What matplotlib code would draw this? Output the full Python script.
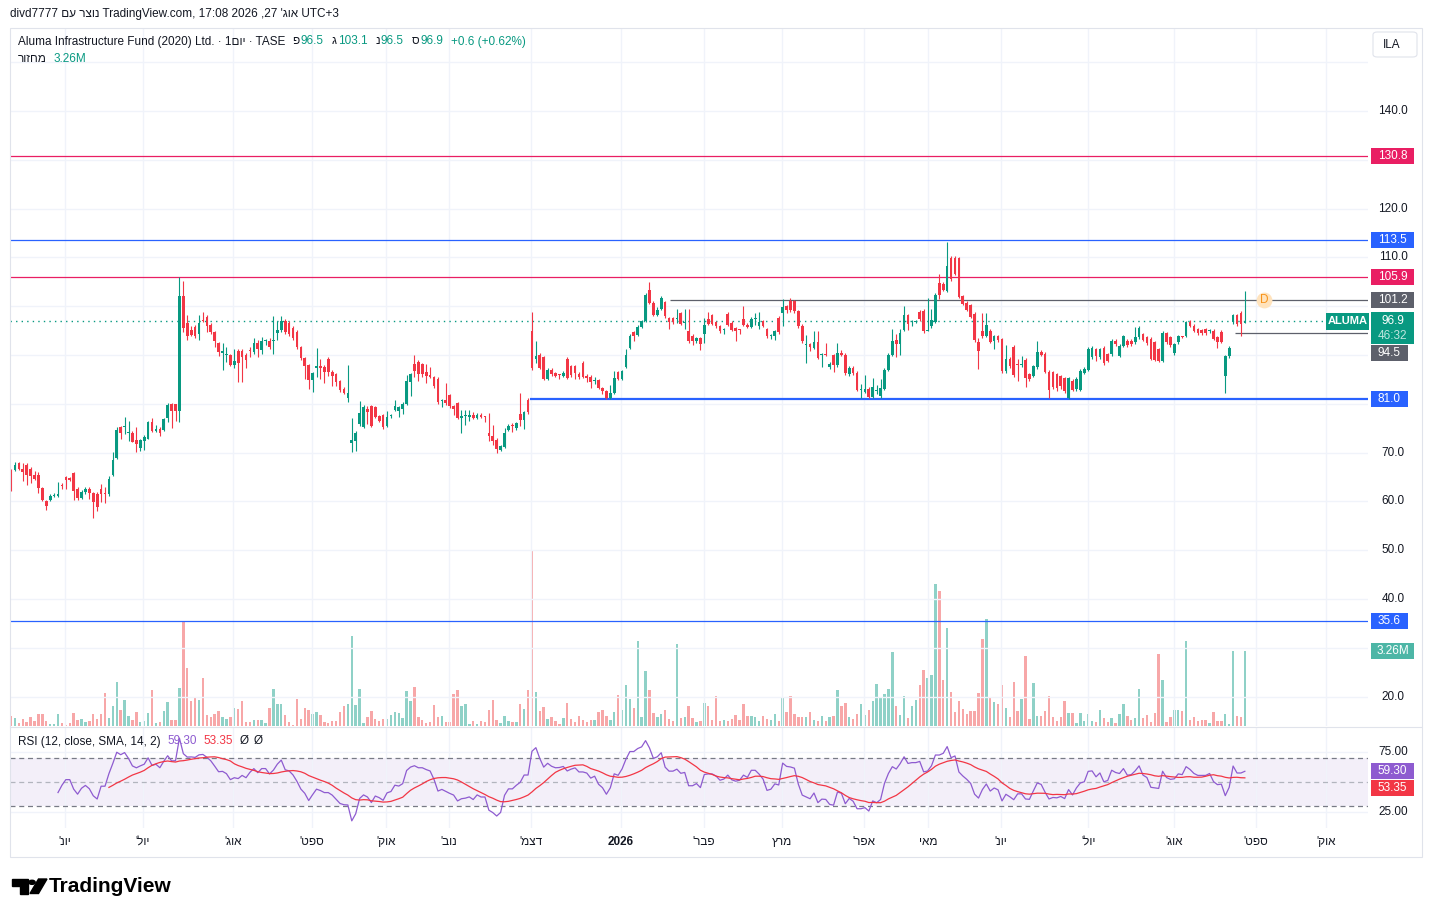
import numpy as np
import pandas as pd
import matplotlib
matplotlib.use("Agg")
import matplotlib.pyplot as plt
from matplotlib.patches import Rectangle, Polygon, Circle, FancyBboxPatch
from matplotlib.transforms import blended_transform_factory

plt.rcParams['font.family'] = ['Liberation Sans', 'DejaVu Sans']

# daily bars, ILA
opens = [
    66.1, 66.4, 67.9, 66.7, 67.5, 66.7, 65.5, 65.5, 62.7, 60.0,
    60.4, 61.1, 61.1, 63.3, 65.05, 64.8, 65.9, 62.5, 60.7, 61.9,
    62.6, 61.8, 61.6, 62.5, 61.8, 61.5, 65.5, 68.9, 75.3, 75.3,
    74.0, 74.1, 72.5, 70.9, 72.4, 72.9, 76.2, 74.4, 74.9, 74.6,
    77.0, 79.9, 79.9, 78.6, 102.1, 96.6, 95.2, 95.7, 94.4, 97.1,
    97.8, 96.2, 94.8, 92.5, 90.4, 90.0, 90.0, 87.9, 90.9, 90.9,
    90.1, 91.0, 90.6, 92.4, 91.1, 92.8, 92.9, 92.8, 94.5, 95.2,
    97.0, 96.6, 95.6, 94.7, 91.7, 89.4, 88.0, 84.8, 87.3, 87.8,
    87.6, 89.1, 86.6, 86.1, 84.6, 83.1, 81.3, 71.9, 72.3, 75.8,
    75.2, 79.0, 79.5, 79.4, 77.5, 77.8, 75.4, 77.5, 78.8, 78.5,
    79.0, 80.0, 84.4, 88.1, 88.6, 88.1, 86.5, 86.0, 85.5, 85.1,
    80.6, 80.7, 81.8, 79.6, 80.1, 77.1, 77.5, 77.3, 77.8, 77.1,
    77.8, 77.4, 74.1, 73.5, 72.5, 70.6, 71.2, 74.6, 75.5, 75.0,
    78.0, 76.6, 80.7, 95.0, 89.1, 90.0, 89.6, 85.1, 87.0, 86.3,
    86.0, 85.8, 89.2, 87.7, 87.7, 86.2, 88.4, 85.8, 85.6, 84.7,
    84.8, 83.3, 82.7, 81.1, 82.2, 86.5, 85.1, 87.5, 91.4, 94.7,
    94.1, 95.8, 96.9, 103.4, 100.7, 98.3, 99.4, 100.8, 97.5, 97.5,
    97.4, 98.6, 96.6, 94.9, 94.0, 92.8, 93.4, 94.4, 97.3, 98.2,
    96.7, 95.9, 95.1, 98.5, 96.6, 95.5, 95.2, 97.3, 96.2, 95.8,
    97.3, 95.9, 96.9, 95.3, 93.9, 93.8, 97.6, 98.6, 100.0, 101.0,
    101.0, 99.0, 96.0, 92.0, 92.2, 91.5, 92.7, 90.0, 90.1, 87.5,
    90.0, 87.9, 90.4, 90.1, 86.1, 87.4, 86.4, 82.8, 82.5, 83.1,
    81.5, 82.6, 81.6, 83.1, 87.0, 90.0, 93.0, 92.2, 95.2, 98.1,
    96.7, 96.7, 98.9, 99.1, 95.0, 95.9, 96.8, 104.8, 104.6, 103.2,
    109.9, 109.9, 109.8, 102.0, 100.7, 100.2, 98.5, 92.7, 95.0, 93.9,
    95.0, 92.8, 93.9, 93.2, 86.7, 89.2, 91.7, 88.1, 87.9, 89.0,
    86.1, 85.7, 87.5, 90.7, 90.3, 86.6, 86.5, 86.1, 85.7, 85.2,
    81.3, 84.7, 83.0, 82.9, 86.4, 87.0, 89.5, 91.2, 89.5, 91.5,
    90.2, 90.2, 92.9, 89.8, 91.9, 92.9, 92.9, 92.6, 93.6, 94.3,
    93.6, 93.3, 92.6, 91.2, 88.8, 94.5, 93.6, 90.4, 92.6, 93.9,
    93.9, 96.7, 96.0, 95.3, 95.1, 95.3, 94.9, 95.0, 93.6, 94.8,
    85.7, 89.7, 96.7, 98.2, 98.7, 96.5,
]
highs = [
    66.6, 68.0, 68.1, 67.9, 67.8, 67.0, 66.2, 66.0, 63.0, 60.3,
    61.6, 61.8, 64.0, 63.8, 65.2, 65.0, 66.1, 63.0, 62.4, 63.0,
    63.0, 62.0, 61.9, 63.5, 62.9, 65.2, 70.2, 75.2, 75.5, 77.4,
    76.5, 74.5, 75.2, 72.8, 73.6, 76.4, 77.0, 75.6, 75.2, 77.2,
    80.2, 80.1, 80.0, 106.0, 105.2, 98.3, 96.0, 96.1, 98.1, 98.9,
    98.1, 96.5, 95.0, 92.7, 92.5, 91.7, 90.2, 91.3, 91.2, 91.3,
    90.5, 91.6, 93.5, 93.0, 93.7, 93.2, 93.5, 97.9, 96.9, 97.9,
    97.3, 96.9, 95.9, 95.1, 91.9, 89.6, 88.2, 86.6, 91.5, 89.2,
    87.9, 89.5, 87.0, 86.4, 84.9, 83.4, 87.9, 77.2, 74.5, 80.6,
    79.8, 79.5, 79.8, 79.6, 77.8, 78.0, 78.5, 78.0, 80.8, 79.6,
    80.3, 85.9, 86.4, 90.0, 88.9, 88.4, 88.1, 87.6, 85.8, 85.4,
    81.0, 84.2, 82.0, 79.8, 80.4, 78.8, 78.8, 78.8, 78.3, 78.1,
    78.2, 77.6, 78.1, 75.6, 73.0, 71.6, 75.1, 75.8, 76.0, 76.3,
    82.2, 78.6, 81.2, 98.9, 92.9, 90.4, 89.9, 87.3, 87.3, 86.5,
    86.2, 86.8, 89.5, 88.0, 88.0, 86.5, 88.7, 86.1, 85.9, 85.6,
    85.0, 83.5, 82.9, 83.9, 86.7, 86.8, 87.0, 91.2, 94.3, 95.0,
    96.1, 97.2, 102.8, 105.0, 101.0, 99.9, 102.0, 101.1, 97.8, 97.8,
    99.4, 98.9, 99.5, 99.4, 94.3, 93.7, 93.7, 97.6, 98.8, 98.5,
    97.0, 96.2, 95.5, 98.8, 96.9, 95.8, 95.4, 100.0, 96.5, 97.7,
    98.6, 98.9, 97.2, 95.6, 94.3, 95.2, 97.9, 101.4, 100.3, 101.6,
    101.3, 99.3, 96.3, 94.2, 92.4, 95.0, 95.0, 90.4, 92.5, 88.5,
    90.3, 92.5, 91.0, 90.4, 87.7, 87.7, 86.7, 84.1, 86.0, 83.4,
    85.2, 83.8, 85.0, 87.3, 90.4, 95.3, 94.4, 95.3, 100.1, 98.4,
    97.1, 97.1, 99.2, 99.4, 101.7, 99.4, 102.8, 106.6, 104.9, 113.1,
    110.2, 110.2, 110.1, 102.3, 101.0, 100.5, 98.8, 93.5, 98.6, 98.6,
    95.3, 94.2, 94.2, 93.5, 92.0, 89.5, 92.0, 89.2, 89.9, 89.3,
    86.4, 88.0, 92.9, 91.0, 90.6, 86.9, 86.8, 86.4, 86.0, 85.5,
    85.5, 85.0, 85.4, 87.1, 87.5, 91.6, 91.8, 91.5, 91.5, 91.8,
    90.5, 93.2, 93.2, 92.2, 94.2, 93.2, 93.2, 95.7, 95.9, 94.6,
    93.9, 93.6, 92.9, 91.5, 94.9, 94.8, 93.9, 92.5, 94.2, 94.0,
    97.0, 97.2, 96.3, 95.6, 95.4, 95.6, 95.3, 95.3, 93.9, 95.1,
    90.1, 91.8, 98.5, 98.5, 99.0, 103.1,
]
lows = [
    62.1, 66.2, 66.5, 64.2, 63.3, 63.8, 64.4, 61.7, 60.0, 58.3,
    60.0, 60.9, 61.0, 62.6, 62.6, 64.2, 60.3, 60.3, 60.5, 61.6,
    60.6, 56.6, 58.1, 59.9, 59.6, 61.2, 65.2, 68.6, 72.9, 73.9,
    72.4, 72.1, 70.2, 70.4, 70.6, 72.7, 74.2, 74.2, 73.5, 74.4,
    76.2, 75.0, 76.5, 76.2, 94.8, 93.0, 93.8, 93.5, 93.1, 96.7,
    94.8, 94.3, 91.6, 89.8, 86.9, 88.6, 87.7, 87.4, 84.4, 84.4,
    87.3, 89.6, 90.2, 89.5, 90.3, 92.1, 91.3, 90.2, 93.0, 94.7,
    94.3, 94.0, 93.1, 91.3, 89.0, 85.1, 83.1, 82.5, 85.6, 85.1,
    84.2, 85.8, 83.7, 83.6, 82.5, 82.0, 80.3, 70.1, 70.4, 75.5,
    75.0, 75.8, 75.2, 77.0, 76.2, 74.9, 75.2, 77.1, 78.5, 77.3,
    78.0, 79.8, 81.7, 85.6, 84.6, 85.4, 84.3, 85.2, 83.3, 79.9,
    79.3, 79.8, 79.2, 77.7, 76.9, 74.1, 75.6, 76.5, 76.8, 76.9,
    77.0, 76.3, 72.4, 71.6, 69.9, 70.4, 71.0, 74.4, 74.2, 74.6,
    75.5, 74.8, 78.0, 87.0, 88.3, 87.1, 84.8, 84.9, 85.8, 85.5,
    85.0, 85.6, 85.1, 85.6, 85.1, 85.1, 85.2, 84.4, 83.3, 84.0,
    83.0, 82.1, 80.9, 80.9, 82.0, 84.9, 84.9, 87.3, 91.2, 92.9,
    93.9, 95.6, 96.7, 100.4, 98.0, 98.0, 99.2, 97.6, 95.3, 96.4,
    96.6, 96.1, 95.3, 92.5, 92.1, 92.5, 91.1, 92.4, 96.1, 96.1,
    95.6, 94.6, 94.3, 95.9, 94.9, 92.8, 94.3, 95.9, 95.5, 95.5,
    96.2, 95.4, 95.7, 93.5, 93.3, 93.0, 94.4, 96.0, 98.7, 98.9,
    98.7, 95.6, 92.5, 88.4, 90.9, 91.3, 89.1, 87.5, 89.8, 87.2,
    86.6, 87.6, 89.7, 86.0, 85.8, 86.0, 82.6, 81.3, 82.2, 81.2,
    81.2, 82.0, 81.3, 82.9, 86.8, 89.8, 89.5, 90.0, 94.9, 95.1,
    95.9, 96.5, 97.0, 94.6, 94.9, 95.6, 96.5, 101.5, 103.1, 102.9,
    105.1, 106.3, 101.6, 100.2, 99.0, 97.5, 92.7, 87.1, 93.4, 93.6,
    92.4, 91.3, 92.7, 86.4, 86.4, 87.4, 85.6, 84.6, 87.6, 83.5,
    84.7, 85.4, 87.2, 89.8, 86.3, 81.1, 83.1, 82.7, 83.0, 82.3,
    81.0, 82.6, 82.7, 82.6, 86.1, 86.7, 89.2, 88.7, 89.2, 88.0,
    88.5, 89.9, 91.9, 89.5, 91.6, 91.7, 91.9, 92.3, 93.3, 92.8,
    92.1, 88.9, 88.7, 88.5, 88.5, 92.3, 91.7, 90.1, 92.3, 93.4,
    93.6, 95.7, 94.7, 94.2, 94.2, 94.2, 94.6, 93.0, 91.4, 92.4,
    82.3, 89.4, 96.4, 96.0, 93.8, 96.5,
]
closes = [
    64.1, 67.4, 66.7, 66.0, 65.5, 65.3, 64.7, 62.7, 60.4, 59.05,
    61.1, 61.25, 61.6, 63.1, 64.4, 64.4, 62.2, 60.8, 62.0, 62.6,
    61.8, 59.9, 58.9, 61.5, 61.5, 64.7, 68.4, 74.7, 74.1, 75.5,
    74.1, 72.2, 71.7, 72.5, 73.2, 76.2, 74.4, 74.9, 74.1, 76.8,
    79.7, 78.5, 78.6, 102.1, 95.6, 94.0, 94.2, 94.0, 96.5, 96.9,
    95.9, 94.7, 92.8, 90.7, 90.9, 90.1, 87.9, 88.7, 88.4, 89.6,
    88.9, 90.9, 92.4, 91.3, 92.9, 92.9, 91.6, 92.9, 95.2, 97.0,
    94.7, 94.4, 93.4, 91.7, 89.3, 87.8, 84.8, 86.3, 87.8, 87.3,
    86.6, 86.6, 85.8, 84.4, 82.8, 82.3, 82.2, 72.5, 74.1, 78.2,
    79.3, 78.3, 75.4, 77.3, 76.5, 75.2, 77.3, 77.7, 79.6, 79.3,
    80.0, 84.6, 86.1, 86.7, 86.2, 86.2, 85.8, 85.5, 83.6, 80.3,
    80.7, 80.1, 79.5, 79.0, 77.1, 77.5, 77.6, 77.8, 77.1, 77.8,
    77.3, 77.3, 73.4, 72.4, 70.8, 71.3, 74.1, 75.4, 75.4, 76.1,
    76.7, 78.3, 78.3, 87.3, 89.9, 87.4, 85.1, 87.0, 86.2, 85.8,
    85.9, 86.3, 85.3, 85.9, 86.3, 85.5, 85.5, 85.3, 84.4, 84.8,
    83.3, 82.6, 81.1, 82.2, 85.3, 85.0, 86.7, 90.1, 94.0, 94.0,
    95.8, 96.9, 102.2, 100.7, 98.3, 99.2, 101.7, 97.9, 96.7, 96.7,
    97.5, 96.4, 96.7, 92.8, 92.8, 93.4, 92.2, 96.2, 96.4, 96.4,
    95.9, 94.9, 95.2, 96.2, 95.2, 94.9, 95.1, 96.2, 95.8, 97.4,
    97.4, 96.8, 96.0, 93.8, 94.0, 94.9, 94.7, 99.9, 99.3, 99.2,
    99.0, 95.9, 92.8, 92.2, 91.6, 92.7, 89.4, 90.1, 90.0, 88.2,
    87.9, 90.4, 90.0, 86.3, 87.4, 86.3, 82.9, 82.9, 83.1, 81.5,
    83.4, 82.7, 83.3, 87.0, 90.1, 92.8, 92.2, 94.5, 98.1, 96.4,
    96.8, 96.8, 97.3, 94.9, 95.2, 97.1, 102.4, 102.4, 103.4, 108.2,
    105.5, 106.6, 101.9, 100.5, 99.3, 97.8, 93.0, 90.9, 93.9, 96.1,
    92.7, 93.9, 93.0, 86.7, 89.2, 87.7, 85.9, 88.0, 88.0, 85.2,
    85.0, 87.7, 90.7, 90.1, 86.6, 82.9, 83.4, 83.2, 83.6, 82.6,
    85.2, 82.9, 85.1, 86.8, 87.2, 91.3, 91.5, 89.7, 91.2, 88.3,
    88.8, 92.9, 92.2, 91.9, 93.9, 92.0, 92.2, 93.6, 95.6, 93.1,
    92.4, 89.2, 89.0, 88.8, 94.6, 92.6, 92.0, 92.2, 93.9, 93.7,
    96.7, 96.0, 95.0, 94.5, 94.5, 94.5, 95.0, 93.3, 92.6, 92.7,
    89.8, 91.5, 98.2, 96.3, 96.3, 96.9,
]
# volume, millions of shares
volumes = [
    0.43, 0.35, 0.13, 0.30, 0.17, 0.39, 0.22, 0.52, 0.52, 0.22,
    0.09, 0.09, 0.52, 0.13, 0.04, 0.13, 0.57, 0.26, 0.30, 0.17,
    0.22, 0.52, 0.30, 0.52, 1.43, 0.35, 0.87, 1.91, 0.70, 1.13,
    0.43, 0.26, 0.61, 0.17, 0.22, 0.57, 1.57, 0.13, 0.17, 0.65,
    1.04, 0.26, 0.26, 1.65, 4.58, 2.52, 1.09, 1.22, 1.13, 2.09,
    0.48, 0.39, 0.52, 0.65, 0.39, 0.30, 0.39, 0.78, 0.74, 1.09,
    0.17, 0.17, 0.26, 0.26, 0.26, 0.13, 0.78, 1.61, 0.96, 0.96,
    0.48, 0.17, 0.04, 1.17, 0.30, 0.78, 0.70, 0.52, 0.61, 0.48,
    0.17, 0.13, 0.22, 0.22, 0.61, 0.87, 0.96, 3.91, 0.91, 1.61,
    0.13, 0.39, 0.65, 0.30, 0.22, 0.30, 0.30, 0.48, 0.61, 0.57,
    0.35, 1.52, 1.09, 1.70, 0.39, 0.26, 0.13, 0.17, 0.91, 0.39,
    0.43, 0.17, 0.17, 1.39, 1.57, 0.87, 0.96, 0.09, 0.22, 0.09,
    0.22, 0.17, 0.70, 1.13, 0.26, 0.13, 0.43, 0.22, 0.17, 0.17,
    0.96, 0.74, 1.57, 7.61, 1.48, 0.65, 0.83, 0.30, 0.39, 0.22,
    0.09, 0.35, 1.00, 0.30, 0.17, 0.43, 0.26, 0.17, 0.26, 0.26,
    0.61, 0.70, 0.43, 0.26, 0.61, 1.35, 0.70, 1.78, 1.17, 0.78,
    3.70, 0.39, 2.39, 1.57, 0.57, 0.39, 0.52, 0.70, 0.30, 0.22,
    3.57, 0.35, 0.39, 0.87, 0.35, 0.17, 0.22, 1.00, 0.87, 0.26,
    1.30, 0.22, 0.26, 0.22, 0.30, 0.48, 0.26, 0.96, 0.43, 0.43,
    0.39, 0.22, 0.43, 0.30, 0.26, 0.52, 0.22, 1.22, 0.61, 1.30,
    0.52, 0.39, 0.39, 0.39, 0.61, 0.26, 0.22, 0.43, 0.22, 0.39,
    0.43, 1.57, 0.87, 1.00, 0.39, 0.30, 0.52, 0.96, 0.48, 0.70,
    1.09, 1.83, 1.26, 1.39, 1.61, 3.22, 0.87, 0.48, 1.30, 0.35,
    0.87, 1.13, 1.78, 2.43, 2.09, 2.22, 6.17, 5.87, 2.00, 4.26,
    1.48, 0.61, 1.09, 0.74, 0.52, 0.65, 0.65, 1.43, 3.78, 4.65,
    1.22, 1.04, 0.96, 1.78, 0.78, 0.39, 1.91, 0.65, 1.17, 3.04,
    0.30, 1.87, 0.43, 0.43, 0.65, 1.30, 0.39, 0.22, 0.39, 1.09,
    0.57, 0.57, 0.13, 0.57, 0.22, 0.52, 0.22, 0.17, 0.70, 0.35,
    0.17, 0.35, 0.13, 0.52, 0.96, 0.43, 0.26, 0.35, 1.61, 0.35,
    0.48, 0.17, 0.57, 3.13, 2.00, 0.17, 0.39, 0.70, 0.70, 0.65,
    3.70, 0.26, 0.39, 0.22, 0.26, 0.26, 0.13, 0.61, 0.22, 0.22,
    0.52, 0.09, 3.26, 0.43, 0.39, 3.26,
]

month_labels = ["יונ'", "יול'", "אוג'", "ספט'", "אוק'", "נוב'", "דצמ'", "2026",
                "פבר'", "מרץ", "אפר'", "מאי", "יונ'", "יול'", "אוג'", "ספט'", "אוק'"]
month_pos = [13.8, 33.7, 56.7, 76.8, 95.7, 111.8, 132.8, 155.7, 176.9,
             196.8, 217.8, 234.1, 252.7, 275.0, 296.9, 317.8, 335.7]

# drawn horizontal levels: price, colour, first bar, width
levels = [130.8, 113.5, 105.9, 101.2, 94.5, 81.0, 35.6]
level_colors = ['#e91e63', '#2962ff', '#e91e63', '#5d606b', '#5d606b', '#2962ff', '#2962ff']
level_from = [None, None, None, 168.2, 312.5, 132.5, None]
level_lw = [0.9, 0.9, 0.9, 0.9, 0.9, 1.6, 0.9]

last_open, last_high, last_low, last_price = 96.5, 103.1, 96.5, 96.9
change, change_pct = 0.6, 0.62
last_vol = 3.26
rsi_val, rsi_ma_val = 59.30, 53.35
price_ticks_shown = [140, 120, 110, 70, 60, 50, 40, 20]
dividend_bar, dividend_price = 320.0, 101.2

UP, DOWN = '#089981', '#f23645'
VUP, VDOWN = '#8fd1c7', '#f7a7a8'
TXT = '#131722'
GRID = '#f0f3fa'
RSI_C = '#8e5bd0'

W, H = 1432, 917
fig = plt.figure(figsize=(W / 100, H / 100), dpi=100)
fig.patch.set_facecolor('white')
renderer = fig.canvas.get_renderer()


def fx(px):
    return px / W


def fy(py):
    return 1 - py / H


def vis(s):
    # matplotlib lays glyphs out left to right, so hebrew goes in visual order
    if s.isdigit():
        return s
    if s.endswith("'"):
        return "'" + s[:-1][::-1]
    return s[::-1]


n = len(closes)
x = np.arange(n)
o = np.array(opens)
c = np.array(closes)
hi = np.array(highs)
lo = np.array(lows)
up = c >= o
cols = np.where(up, UP, DOWN)
vcols = np.where(up, VUP, VDOWN)

bar0, step = 11.0, 3.917   # px of first bar, px per bar
xl = ((10 - bar0) / step, (1368 - bar0) / step)

pane = [fx(10), fy(726), fx(1368) - fx(10), fy(28) - fy(726)]
ax_v = fig.add_axes(pane)
ax = fig.add_axes(pane)
ax_r = fig.add_axes([fx(10), fy(828), fx(1368) - fx(10), fy(728) - fy(828)])

for a in (ax_v, ax, ax_r):
    a.set_xlim(*xl)
    for s in a.spines.values():
        s.set_visible(False)
    a.tick_params(left=False, bottom=False, labelleft=False, labelbottom=False)
ax.patch.set_alpha(0)

ax.set_ylim(14.0, 157.0)
ax_v.set_ylim(0, 698 / 23.0)
ax_r.set_ylim(11.67, 95)

# grid
ax_v.set_xticks(month_pos)
ax_v.set_yticks([])
ax_v.grid(True, axis='x', color=GRID, lw=1)
ax.set_xticks(month_pos)
ax.set_yticks(np.arange(20, 160, 10))
ax.grid(True, axis='y', color=GRID, lw=1, zorder=0)
ax_r.set_xticks(month_pos)
ax_r.set_yticks([25, 75])
ax_r.grid(True, color=GRID, lw=1)

# volume
ax_v.bar(x, volumes, width=0.62, color=vcols, linewidth=0)

# levels
for lv, lc, lf, lw in zip(levels, level_colors, level_from, level_lw):
    start = xl[0] if lf is None else lf
    ax.hlines(lv, start, xl[1], color=lc, lw=lw, zorder=2)
ax.axhline(last_price, color=UP, lw=1, ls=(0, (1, 3)), zorder=2)

# candles
ax.vlines(x, lo, hi, colors=cols, lw=0.8, zorder=3)
ax.bar(x, np.maximum(np.abs(c - o), 0.22), bottom=np.minimum(o, c), width=0.68,
       color=cols, linewidth=0, zorder=4)

# dividend marker
ax.scatter([dividend_bar], [dividend_price], s=130, color='#ffe3bd', zorder=5, linewidths=0)
ax.text(dividend_bar, dividend_price, 'D', color='#f7931a', fontsize=8.5,
        ha='center', va='center', zorder=6)

# RSI(12) on closes, Wilder smoothing, plus SMA 14
length = 12
d = np.diff(c)
gain = np.where(d > 0, d, 0.0)
loss = np.where(d < 0, -d, 0.0)
rsi = np.full(n, np.nan)
ag, al = gain[:length].mean(), loss[:length].mean()
rsi[length] = 100 - 100 / (1 + ag / al)
for k in range(length, len(d)):
    ag = (ag * (length - 1) + gain[k]) / length
    al = (al * (length - 1) + loss[k]) / length
    rsi[k + 1] = 100 - 100 / (1 + ag / al)
rsi_ma = pd.Series(rsi).rolling(14).mean().values

ax_r.axhspan(30, 70, color='#7e57c2', alpha=0.09, lw=0)
ax_r.axhline(70, color='#787b86', lw=0.9, ls=(0, (4, 3)))
ax_r.axhline(30, color='#787b86', lw=0.9, ls=(0, (4, 3)))
ax_r.axhline(50, color='#b2b5be', lw=0.9, ls=(0, (4, 3)))
ax_r.plot(x, rsi, color=RSI_C, lw=0.9)
ax_r.plot(x, rsi_ma, color=DOWN, lw=0.9)

# frame and pane separator
fig.patches.append(Rectangle((fx(9.5), fy(856.5)), 1412 / W, 829 / H, transform=fig.transFigure,
                             facecolor='none', edgecolor='#e0e3eb', lw=0.8, zorder=0))
fig.lines.append(plt.Line2D([fx(10), fx(1421)], [fy(727), fy(727)], transform=fig.transFigure,
                            color='#e0e3eb', lw=0.8))


def ypx(a, v):
    return H - a.transData.transform((0, v))[1]


def tag(yc, text, face, tc='white'):
    w = 37 if len(text) <= 4 else 43
    fig.patches.append(Rectangle((fx(1371), fy(yc + 8)), w / W, 16 / H, transform=fig.transFigure,
                                 facecolor=face, edgecolor='none', zorder=5))
    fig.text(fx(1371 + w / 2), fy(yc), text, color=tc, ha='center', va='center',
             fontsize=8.5, zorder=6)


# price scale
for t in price_ticks_shown:
    fig.text(fx(1393), fy(ypx(ax, t)), f'{t:.1f}', color=TXT, ha='center', va='center', fontsize=8.5)
tag(ypx(ax, 130.8), '130.8', '#e91e63')
tag(ypx(ax, 113.5), '113.5', '#2962ff')
tag(ypx(ax, 105.9), '105.9', '#e91e63')
tag(ypx(ax, 101.2), '101.2', '#5d606b')
tag(ypx(ax, 94.5) + 20, '94.5', '#5d606b')
tag(ypx(ax, 81.0), '81.0', '#2962ff')
tag(ypx(ax, 35.6), '35.6', '#2962ff')
tag(ypx(ax_v, last_vol), f'{last_vol:.2f}M', '#4db6a6')

yp = ypx(ax, last_price)
fig.patches.append(Rectangle((fx(1371), fy(yp + 23)), 43 / W, 32 / H, transform=fig.transFigure,
                             facecolor=UP, edgecolor='none', zorder=5))
fig.text(fx(1392.5), fy(yp), f'{last_price:.1f}', color='white', ha='center', va='center',
         fontsize=8.5, zorder=6)
fig.text(fx(1392.5), fy(yp + 15), '46:32', color='#bfe6df', ha='center', va='center',
         fontsize=8.5, zorder=6)
fig.patches.append(Rectangle((fx(1326), fy(yp + 9)), 43 / W, 17 / H, transform=fig.transFigure,
                             facecolor=UP, edgecolor='none', zorder=5))
fig.text(fx(1347.5), fy(yp), 'ALUMA', color='white', ha='center', va='center',
         fontsize=8, fontweight='bold', zorder=6)

# RSI scale
for t in (75, 25):
    fig.text(fx(1393), fy(ypx(ax_r, t)), f'{t:.2f}', color=TXT, ha='center', va='center', fontsize=8.5)
tag(ypx(ax_r, rsi_val), f'{rsi_val:.2f}', RSI_C)
tag(ypx(ax_r, rsi_ma_val) + 10, f'{rsi_ma_val:.2f}', DOWN)

# currency box
fig.patches.append(FancyBboxPatch((fx(1373), fy(57)), 44 / W, 25 / H, transform=fig.transFigure,
                                  boxstyle='round,pad=0,rounding_size=0.003',
                                  facecolor='white', edgecolor='#e0e3eb', lw=0.8, zorder=5))
fig.text(fx(1392), fy(44.5), 'ILA', color=TXT, ha='center', va='center', fontsize=8.5, zorder=6)

# time axis
tb = blended_transform_factory(ax_r.transData, fig.transFigure)
for pos, lab in zip(month_pos, month_labels):
    ax_r.text(pos, fy(842), vis(lab), transform=tb, ha='center', va='center', color=TXT,
              fontsize=8.5, fontweight='bold' if lab.isdigit() else 'normal', clip_on=False)


def run(pieces, x0, y0, size=8.5):
    # lay text pieces out one after another
    xc = x0
    for s, col, gap in pieces:
        t = fig.text(fx(xc), fy(y0), s, color=col, fontsize=size, va='center')
        xc += t.get_window_extent(renderer).width + gap


# header
fig.text(fx(10), fy(14), 'divd7777 ' + vis('נוצר עם') + ' TradingView.com, 17:08 2026 ,27 '
         + vis("אוג'") + ' UTC+3', color=TXT, fontsize=8.5, va='center')
run([('Aluma Infrastructure Fund (2020) Ltd. · 1' + vis('יום') + ' · TASE', TXT, 7),
     ('פ', TXT, 1), (f'{last_open:.1f}', UP, 8),
     ('ג', TXT, 1), (f'{last_high:.1f}', UP, 8),
     ('נ', TXT, 1), (f'{last_low:.1f}', UP, 8),
     ('ס', TXT, 1), (f'{last_price:.1f}', UP, 8),
     (f'+{change:.1f} (+{change_pct:.2f}%)', UP, 0)], 18, 41.5)
run([(vis('מחזור'), TXT, 7), (f'{last_vol:.2f}M', UP, 0)], 18, 58.5)

run([('RSI (12, close, SMA, 14, 2)', TXT, 7), (f'{rsi_val:.2f}', RSI_C, 6),
     (f'{rsi_ma_val:.2f}', DOWN, 7), ('Ø', TXT, 5), ('Ø', TXT, 0)], 18, 741.5)

# TradingView logo
def fpts(pts):
    return [(fx(a), fy(b)) for a, b in pts]


fig.patches.append(Polygon(fpts([(12, 879), (27.5, 879), (27.5, 893.5), (19.5, 893.5),
                                 (19.5, 885.5), (12, 885.5)]), closed=True,
                           transform=fig.transFigure, color='black'))
fig.patches.append(Circle((fx(32), fy(882.3)), 3.2 / W, transform=fig.transFigure, color='black'))
fig.patches.append(Polygon(fpts([(38.5, 879), (47, 879), (38.5, 893.5), (30, 893.5)]), closed=True,
                           transform=fig.transFigure, color='black'))
fig.text(fx(49), fy(887), 'TradingView', color='black', fontsize=15, fontweight='bold', va='center')

fig.savefig('out.png', dpi=100, facecolor='white')
